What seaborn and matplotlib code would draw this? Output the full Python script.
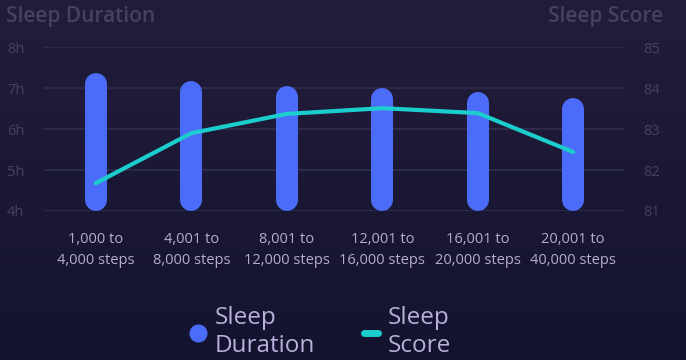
import numpy as np
import pandas as pd
import seaborn as sns
import matplotlib.pyplot as plt
from matplotlib.colors import LinearSegmentedColormap
from matplotlib.lines import Line2D

# data
categories = ["1,000 to\n4,000 steps", "4,001 to\n8,000 steps", "8,001 to\n12,000 steps",
              "12,001 to\n16,000 steps", "16,001 to\n20,000 steps", "20,001 to\n40,000 steps"]
sleep_duration = [7.36, 7.17, 7.05, 7.0, 6.9, 6.76]
sleep_score = [81.68, 82.9, 83.37, 83.51, 83.39, 82.44]
left_ticks = [4, 5, 6, 7, 8]
left_labels = ["4h", "5h", "6h", "7h", "8h"]
right_ticks = [81, 82, 83, 84, 85]

BLUE = "#4a6cf8"
CYAN = "#1ccdcd"
GRID = "#2c2c4a"
DIM = "#45425f"
LABEL = "#b4aecb"
LEGEND = "#b8b0d8"

sns.set_theme(style="dark")
plt.rcParams["font.family"] = ["Open Sans", "DejaVu Sans"]

df = pd.DataFrame({"steps": categories, "duration": sleep_duration,
                   "score": sleep_score})

fig = plt.figure(figsize=(6.86, 3.60), dpi=100)

# background gradient
bg = fig.add_axes([0, 0, 1, 1], zorder=-10)
cmap = LinearSegmentedColormap.from_list("bg", ["#231d3b", "#131330"])
bg.imshow(np.linspace(0, 1, 256).reshape(-1, 1), aspect="auto", cmap=cmap,
          extent=[0, 1, 0, 1])
bg.set_axis_off()

ax = fig.add_axes([0.064, 0.414, 0.846, 0.455])
ax.set_facecolor("none")

# bars as capsules: seaborn places them, then round them off
sns.barplot(data=df, x="steps", y="duration", ax=ax, color=BLUE, width=0.2)
ylo, yhi = 4, 8
ax.set_ylim(ylo, yhi)
px_per_h = 0.455 * 360 / (yhi - ylo)
r = 11 / px_per_h
for p in list(ax.patches):
    xc = p.get_x() + p.get_width() / 2
    top = p.get_height()
    p.remove()
    ax.plot([xc, xc], [ylo + r, top - r], color=BLUE, lw=22 * 0.72,
            solid_capstyle="round", zorder=3)

ax.set_xlim(-0.545, 5.535)
ax.set_yticks(left_ticks)
ax.set_yticklabels(left_labels)
ax.grid(axis="y", color=GRID, lw=1.4)
ax.grid(axis="x", visible=False)
ax.set_axisbelow(True)
for s in ax.spines.values():
    s.set_visible(False)
ax.tick_params(axis="y", colors=DIM, labelsize=10.5, length=0, pad=14)
ax.tick_params(axis="x", colors=LABEL, labelsize=10.5, length=0, pad=15)
for t in ax.get_xticklabels():
    t.set_linespacing(1.55)
ax.set_xlabel("")
ax.set_ylabel("")

ax2 = ax.twinx()
sns.lineplot(data=df, x="steps", y="score", ax=ax2, color=CYAN, lw=3,
             sort=False, zorder=4)
ax2.set_ylim(81, 85)
ax2.set_yticks(right_ticks)
ax2.tick_params(axis="y", colors=DIM, labelsize=10.5, length=0, pad=14)
ax2.set_ylabel("")
ax2.grid(False)
for s in ax2.spines.values():
    s.set_visible(False)

fig.text(0.009, 0.955, "Sleep Duration", color=DIM, fontsize=15,
         fontweight="semibold", va="center", ha="left")
fig.text(0.966, 0.955, "Sleep Score", color=DIM, fontsize=15,
         fontweight="semibold", va="center", ha="right")

handles = [Line2D([], [], marker="o", ls="none", color=BLUE, markersize=12),
           Line2D([], [], color=CYAN, lw=5, solid_capstyle="round")]
leg = fig.legend(handles, ["Sleep\nDuration", "Sleep\nScore"], loc="center",
                 bbox_to_anchor=(0.468, 0.077), ncol=2, frameon=False,
                 fontsize=17.5, labelcolor=LEGEND, handlelength=0.6,
                 handletextpad=0.4, columnspacing=2.0)
for t in leg.get_texts():
    t.set_linespacing(1.2)

fig.savefig("out.png", dpi=100)
